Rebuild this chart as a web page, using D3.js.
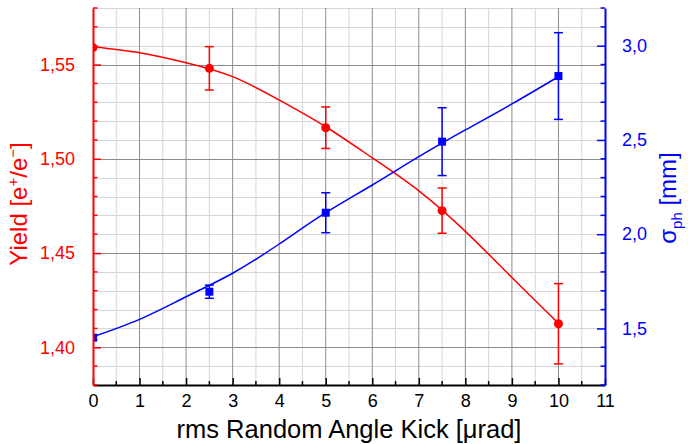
<!DOCTYPE html>
<html>
<head>
<meta charset="utf-8">
<script src="https://cdn.jsdelivr.net/npm/d3@7"></script>
<style>
  html, body { margin: 0; padding: 0; background: #fff; }
  svg { display: block; font-family: "Liberation Sans", Arial, sans-serif; }
</style>
</head>
<body>
<svg id="chart" width="688" height="444"></svg>
<script>
// Random angle kick (µrad)
const kick = [0, 2.5, 5, 7.5, 10];
// Positron yield e+/e- and its uncertainty
const yieldVals = [1.559, 1.548, 1.5165, 1.4725, 1.4125];
const yieldErr  = [0, 0.0115, 0.011, 0.012, 0.0213];
// Photon spot size sigma_ph (mm) and its uncertainty
const sigmaVals = [1.451, 1.695, 2.114, 2.491, 2.839];
const sigmaErr  = [0.01, 0.035, 0.106, 0.18, 0.23];

// Fitted trend curves, sampled at whole µrad steps
const fitKick  = [0, 1, 2, 3, 4, 5, 6, 7, 8, 9, 10];
const yieldFit = [1.5595, 1.5563, 1.5510, 1.5436, 1.5312, 1.5170, 1.5005, 1.4830, 1.4615, 1.4370, 1.4127];
const sigmaFit = [1.456, 1.548, 1.668, 1.793, 1.948, 2.114, 2.261, 2.411, 2.553, 2.691, 2.836];

const xTicks = [0, 1, 2, 3, 4, 5, 6, 7, 8, 9, 10, 11];
const yLeftTicks = [1.40, 1.45, 1.50, 1.55];
const yRightTicks = [1.5, 2.0, 2.5, 3.0];

const RED = "#ff0000", BLUE = "#0000ff";
const fmt2 = d => d3.format(".2f")(d).replace(".", ",");
const fmt1 = d => d3.format(".1f")(d).replace(".", ",");

const svg = d3.select("#chart");
const L = 93, R = 605, T = 8, B = 385;

const x = d3.scaleLinear().domain([0, 11]).range([L, R]);
const yL = d3.scaleLinear().domain([1.38, 1.58]).range([B, T]);
const yR = d3.scaleLinear().domain([1.2, 3.2]).range([B, T]);

svg.append("defs").append("clipPath").attr("id", "plotClip")
  .append("rect").attr("x", L).attr("y", T).attr("width", R - L).attr("height", B - T);

// grid: minor first, then major
const grid = svg.append("g");
const xMinor = d3.range(0.5, 11, 1);
const yMinor = d3.range(1.38, 1.5801, 0.01).filter(v => Math.abs(Math.round(v * 20) - v * 20) > 1e-6);
grid.selectAll(".vmin").data(xMinor).join("line")
  .attr("x1", d => x(d)).attr("x2", d => x(d)).attr("y1", T).attr("y2", B)
  .attr("stroke", "#d6d6d6").attr("stroke-width", 1);
grid.selectAll(".hmin").data(yMinor).join("line")
  .attr("x1", L).attr("x2", R).attr("y1", d => Math.round(yL(d)) + 0.5).attr("y2", d => Math.round(yL(d)) + 0.5)
  .attr("stroke", "#d6d6d6").attr("stroke-width", 1);
grid.selectAll(".vmaj").data(xTicks.slice(1, -1)).join("line")
  .attr("x1", d => x(d)).attr("x2", d => x(d)).attr("y1", T).attr("y2", B)
  .attr("stroke", "#8c8c8c").attr("stroke-width", 1);
grid.selectAll(".hmaj").data(yLeftTicks).join("line")
  .attr("x1", L).attr("x2", R).attr("y1", d => Math.round(yL(d)) + 0.5).attr("y2", d => Math.round(yL(d)) + 0.5)
  .attr("stroke", "#8c8c8c").attr("stroke-width", 1);

// data layers
const plot = svg.append("g").attr("clip-path", "url(#plotClip)");

const redLine = d3.line().x((d, i) => x(fitKick[i])).y(d => yL(d)).curve(d3.curveNatural);
const blueLine = d3.line().x((d, i) => x(fitKick[i])).y(d => yR(d)).curve(d3.curveNatural);

plot.append("path").attr("d", redLine(yieldFit)).attr("fill", "none")
  .attr("stroke", RED).attr("stroke-width", 1.5);
plot.append("path").attr("d", blueLine(sigmaFit)).attr("fill", "none")
  .attr("stroke", BLUE).attr("stroke-width", 1.5);

function errorBars(vals, errs, scale, color) {
  const g = plot.append("g").attr("stroke", color).attr("stroke-width", 1.5);
  vals.forEach((v, i) => {
    if (errs[i] <= 0) return;
    const cx = x(kick[i]), y1 = scale(v + errs[i]), y2 = scale(v - errs[i]);
    g.append("line").attr("x1", cx).attr("x2", cx).attr("y1", y1).attr("y2", y2);
    g.append("line").attr("x1", cx - 4.5).attr("x2", cx + 4.5).attr("y1", y1).attr("y2", y1);
    g.append("line").attr("x1", cx - 4.5).attr("x2", cx + 4.5).attr("y1", y2).attr("y2", y2);
  });
}
errorBars(yieldVals, yieldErr, yL, RED);
errorBars(sigmaVals, sigmaErr, yR, BLUE);

plot.selectAll(".dotR").data(yieldVals).join("circle")
  .attr("cx", (d, i) => x(kick[i])).attr("cy", d => yL(d)).attr("r", 4.5).attr("fill", RED);
plot.selectAll(".dotB").data(sigmaVals).join("rect")
  .attr("x", (d, i) => x(kick[i]) - 4).attr("y", d => yR(d) - 4)
  .attr("width", 8).attr("height", 8).attr("fill", BLUE);

// axes
const fontSize = 18;
// bottom
const xAxis = svg.append("g").attr("transform", `translate(0,${B})`)
  .call(d3.axisBottom(x).tickValues(xTicks).tickSize(-7).tickSizeOuter(0).tickPadding(16).tickFormat(d3.format("d")));
xAxis.select(".domain").attr("stroke", "#000").attr("stroke-width", 2);
xAxis.selectAll(".tick line").attr("stroke", "#000").attr("stroke-width", 1.5);
xAxis.selectAll("text").attr("font-size", fontSize).attr("fill", "#000").attr("dy", "0.32em");
xAxis.append("g").selectAll("line").data(xMinor).join("line")
  .attr("x1", d => x(d)).attr("x2", d => x(d)).attr("y1", 0).attr("y2", -4)
  .attr("stroke", "#000").attr("stroke-width", 1.5);

// left
const yAxisL = svg.append("g").attr("transform", `translate(${L},0)`)
  .call(d3.axisLeft(yL).tickValues(yLeftTicks).tickSize(-8).tickSizeOuter(0).tickPadding(18).tickFormat(fmt2));
yAxisL.select(".domain").attr("stroke", RED).attr("stroke-width", 2);
yAxisL.selectAll(".tick line").attr("stroke", RED).attr("stroke-width", 1.5);
yAxisL.selectAll("text").attr("font-size", fontSize).attr("fill", RED);
yAxisL.append("g").selectAll("line").data(yMinor).join("line")
  .attr("x1", 0).attr("x2", 4.5).attr("y1", d => yL(d)).attr("y2", d => yL(d))
  .attr("stroke", RED).attr("stroke-width", 1.5);

// right
const yRMinor = d3.range(1.2, 3.2001, 0.1).filter(v => Math.abs(Math.round(v * 2) - v * 2) > 1e-6);
const yAxisR = svg.append("g").attr("transform", `translate(${R},0)`)
  .call(d3.axisRight(yR).tickValues(yRightTicks).tickSize(-8).tickSizeOuter(0).tickPadding(17).tickFormat(fmt1));
yAxisR.select(".domain").attr("stroke", BLUE).attr("stroke-width", 2);
yAxisR.selectAll(".tick line").attr("stroke", BLUE).attr("stroke-width", 1.5);
yAxisR.selectAll("text").attr("font-size", fontSize).attr("fill", BLUE);
yAxisR.append("g").selectAll("line").data(yRMinor).join("line")
  .attr("x1", 0).attr("x2", -4.5).attr("y1", d => yR(d)).attr("y2", d => yR(d))
  .attr("stroke", BLUE).attr("stroke-width", 1.5);

// axis titles
svg.append("text").attr("x", 349).attr("y", 438).attr("text-anchor", "middle")
  .attr("font-size", 25.5).attr("fill", "#000").text("rms Random Angle Kick [μrad]");

const yt = svg.append("text").attr("transform", "translate(27,204) rotate(-90)")
  .attr("text-anchor", "middle").attr("font-size", 24).attr("fill", RED);
yt.append("tspan").text("Yield [e");
yt.append("tspan").attr("font-size", 15).attr("dy", -9).text("+");
yt.append("tspan").attr("dy", 9).text("/e");
yt.append("tspan").attr("font-size", 15).attr("dy", -9).text("−");
yt.append("tspan").attr("dy", 9).text("]");

const st = svg.append("text").attr("transform", "translate(676,198) rotate(-90)")
  .attr("text-anchor", "middle").attr("font-size", 24).attr("fill", BLUE);
st.append("tspan").text("σ");
st.append("tspan").attr("font-size", 15).attr("dy", 6).text("ph");
st.append("tspan").attr("dy", -6).text(" [mm]");
</script>
</body>
</html>
